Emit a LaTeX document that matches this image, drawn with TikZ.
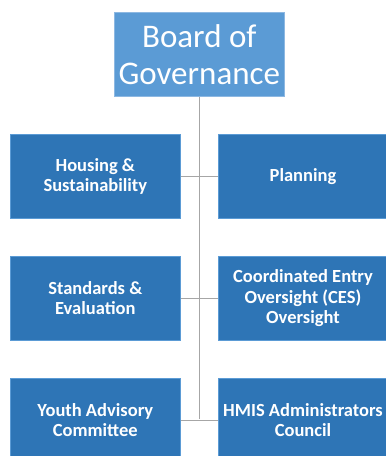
\documentclass[tikz,border=0pt]{standalone}
\usepackage{fontspec}
\setmainfont{Carlito}
\definecolor{topfill}{HTML}{5B9BD5}
\definecolor{topline}{HTML}{8DB8E2}
\definecolor{boxfill}{HTML}{2E75B6}
\definecolor{boxline}{HTML}{5B9BD5}
\definecolor{conn}{HTML}{A6A6A6}
\begin{document}
\begin{tikzpicture}[x=1pt,y=-1pt,
  unit/.style={draw=boxline, line width=0.8pt, fill=boxfill, text=white,
    minimum width=170pt, minimum height=84pt, inner sep=0pt, align=center,
    font=\bfseries\fontsize{18.5}{20.5}\selectfont},
  topbox/.style={draw=topline, line width=0.8pt, fill=topfill, text=white,
    minimum width=170pt, minimum height=84.4pt, inner sep=0pt, align=center,
    font=\fontsize{33}{36.5}\selectfont},
  link/.style={draw=conn, line width=1.4pt}]
\useasboundingbox (0,0) rectangle (386,456);
\clip (0,0) rectangle (386,456);
\fill[white] (0,0) rectangle (386,456);
\node[topbox] (board) at (199.3,54.5) {Board of\\Governance};
\node[unit] (hs) at (95.3,176.3) {Housing \&\\Sustainability};
\node[unit] (pl) at (303,176.3) {Planning};
\node[unit] (se) at (95.3,298.2) {Standards \&\\Evaluation};
\node[unit] (ce) at (303,298.2) {Coordinated Entry\\Oversight (CES)\\Oversight};
\node[unit] (ya) at (95.3,420.3) {Youth Advisory\\Committee};
\node[unit] (hm) at (303,420.3) {HMIS Administrators\\Council};
\coordinate (jb) at (199.3,419.3);
\draw[link] (board.south) -- (jb);
\draw[link] (hs.east) -- (pl.west);
\draw[link] (se.east) -- (ce.west);
\draw[link] (ya.east) -- (hm.west);
\end{tikzpicture}
\end{document}
